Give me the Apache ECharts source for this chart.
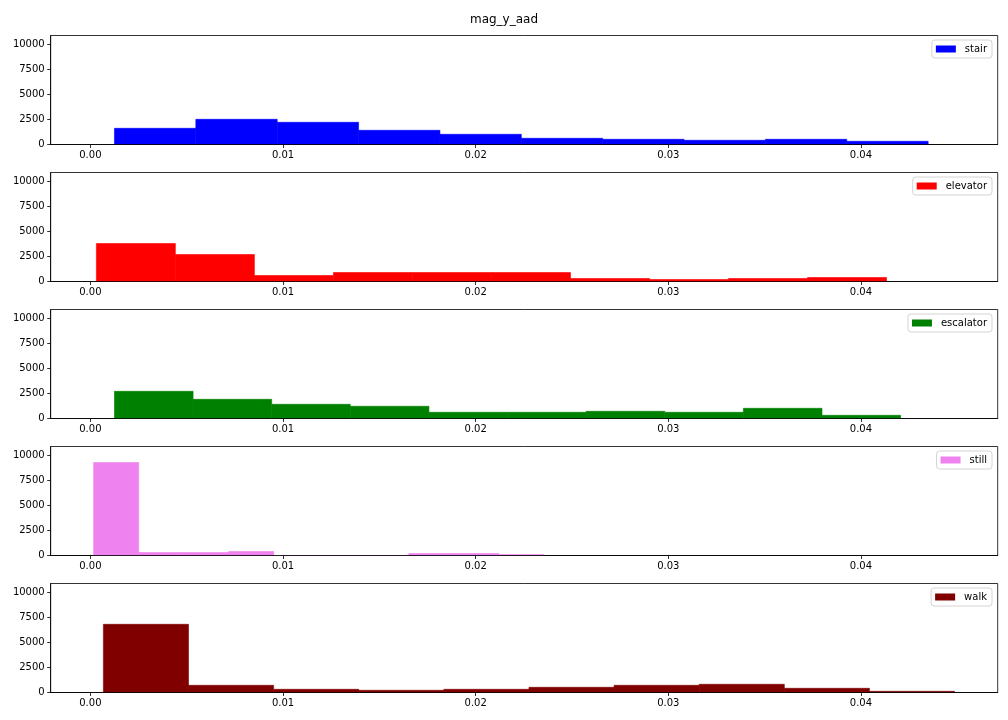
<!DOCTYPE html>
<html>
<head>
<meta charset="utf-8">
<style>html,body{margin:0;padding:0;background:#fff;}#c{width:1008px;height:720px;}</style>
<script src="https://cdn.jsdelivr.net/npm/echarts@6/dist/echarts.min.js"></script>
</head>
<body>
<div id="c"></div>
<script>
const names = ['stair', 'elevator', 'escalator', 'still', 'walk'];
const colors = ['#0000ff', '#ff0000', '#008000', '#ee82ee', '#800000'];
// histogram ranges (first bin left edge, last bin right edge), 10 equal bins each
const stairRange = [0.00125, 0.04349];
const elevatorRange = [0.00031, 0.04133];
const escalatorRange = [0.00125, 0.04206];
const stillRange = [0.00017, 0.02354];
const walkRange = [0.000675, 0.04486];
// counts per bin
const stairCounts = [1620, 2520, 2220, 1420, 1020, 620, 520, 420, 520, 320];
const elevatorCounts = [3800, 2700, 600, 900, 900, 900, 300, 200, 300, 400];
const escalatorCounts = [2720, 1920, 1420, 1220, 620, 620, 720, 620, 1020, 320];
const stillCounts = [9300, 300, 300, 400, 0, 0, 0, 200, 200, 100];
const walkCounts = [6820, 720, 320, 220, 320, 520, 720, 820, 420, 120];
const xTicks = [0, 0.01, 0.02, 0.03, 0.04];
const yTicks = [0, 2500, 5000, 7500, 10000];

const ranges = [stairRange, elevatorRange, escalatorRange, stillRange, walkRange];
const counts = [stairCounts, elevatorCounts, escalatorCounts, stillCounts, walkCounts];

const X_MIN = -0.00206, X_MAX = 0.04710, Y_MAX = 10900;
const FONT = 'DejaVu Sans';

function binData(range, cnt) {
  const n = cnt.length, w = (range[1] - range[0]) / n;
  return cnt.map((c, i) => [range[0] + i * w, range[0] + (i + 1) * w, c]);
}

const grids = [], xAxes = [], yAxes = [], series = [], legends = [];
names.forEach((name, i) => {
  const top = 35.5 + i * 137;
  grids.push({left: 50.7, right: 10.3, top: top, height: 109, show: true,
    borderColor: '#000', borderWidth: 0.8, backgroundColor: 'transparent'});
  xAxes.push({type: 'value', gridIndex: i, min: X_MIN, max: X_MAX, z: 3,
    splitLine: {show: false},
    axisLine: {show: true, onZero: false, lineStyle: {color: '#000', width: 0.8}},
    axisTick: {show: true, length: 3.5, inside: false, customValues: xTicks, lineStyle: {color: '#000', width: 0.8}},
    axisLabel: {show: true, customValues: xTicks, margin: 6, color: '#000', fontSize: 10, fontFamily: FONT,
      formatter: v => v.toFixed(2)}
  });
  yAxes.push({type: 'value', gridIndex: i, min: 0, max: Y_MAX, z: 3,
    splitLine: {show: false},
    axisLine: {show: true, onZero: false, lineStyle: {color: '#000', width: 0.8}},
    axisTick: {show: true, length: 3.5, inside: false, customValues: yTicks, lineStyle: {color: '#000', width: 0.8}},
    axisLabel: {show: true, customValues: yTicks, margin: 6, color: '#000', fontSize: 10, fontFamily: FONT,
      formatter: v => String(v)}
  });
  series.push({
    type: 'custom', name: name, xAxisIndex: i, yAxisIndex: i,
    itemStyle: {color: colors[i]},
    encode: {x: [0, 1], y: 2},
    data: binData(ranges[i], counts[i]),
    renderItem: function (params, api) {
      const p0 = api.coord([api.value(0), api.value(2)]);
      const p1 = api.coord([api.value(1), 0]);
      return {type: 'rect', shape: {x: p0[0], y: p0[1], width: p1[0] - p0[0], height: p1[1] - p0[1]},
        style: {fill: colors[i], stroke: colors[i], lineWidth: 0.6}};
    }
  });
  legends.push({data: [name], right: 16, top: top + 4.5, orient: 'vertical',
    icon: 'rect', itemWidth: 20, itemHeight: 7, padding: [4, 5, 4, 4],
    borderColor: '#d4d4d4', borderWidth: 1, borderRadius: 3, backgroundColor: '#fff',
    textStyle: {color: '#000', fontSize: 10, fontFamily: FONT, padding: [0, 0, 0, 4]},
    selectedMode: false});
});

const chart = echarts.init(document.getElementById('c'), null, {renderer: 'canvas'});
chart.setOption({
  animation: false,
  backgroundColor: '#fff',
  title: {text: 'mag_y_aad', left: 'center', top: 9,
    textStyle: {fontSize: 12, fontWeight: 'normal', color: '#000', fontFamily: FONT}},
  legend: legends,
  grid: grids,
  xAxis: xAxes,
  yAxis: yAxes,
  series: series
});
</script>
</body>
</html>
